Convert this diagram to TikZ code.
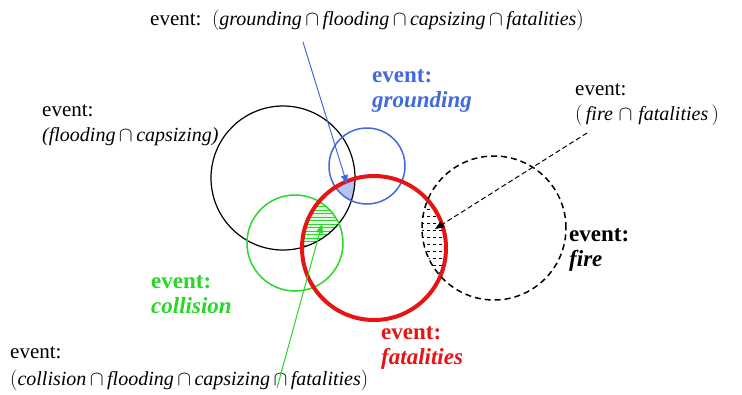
\documentclass[tikz,border=0pt]{standalone}
\usepackage{fontspec}
\setmainfont{Liberation Serif}
\usetikzlibrary{arrows.meta}
\definecolor{evblue}{RGB}{66,105,222}
\definecolor{evgreen}{RGB}{40,215,40}
\definecolor{evred}{RGB}{230,20,20}
\newcommand{\cp}{$\,\cap\,$}
\newcommand{\evexpr}[1]{{\fontsize{20}{24}\selectfont\itshape #1}}

\begin{document}
\begin{tikzpicture}[x=1pt,y=-1pt]
	\tikzset{label text/.style={anchor=west,align=left,inner sep=0pt,font=\fontsize{21}{25}\selectfont},
		event label/.style={label text,font=\fontsize{23}{25}\selectfont\bfseries},
		pointer/.style={-{Triangle[length=9pt,width=7pt]},line width=1pt}}
	\useasboundingbox (0,0) rectangle (742,394);
	% circle centres
	\coordinate (flood) at (283,178);
	\coordinate (ground) at (367,166);
	\coordinate (coll) at (295,243);
	\coordinate (fatal) at (374,248);
	\coordinate (fire) at (494,228);
	% shaded intersections
	\begin{scope}
		\clip (ground) circle[radius=38pt];
		\clip (fatal) circle[radius=72pt];
		\clip (flood) circle[radius=72pt];
		\fill[evblue!40] (320,160) rectangle (370,220);
	\end{scope}
	\begin{scope}
		\clip (coll) circle[radius=48pt];
		\clip (fatal) circle[radius=72pt];
		\clip (flood) circle[radius=72pt];
		\fill[evgreen!12] (280,190) rectangle (360,260);
		\foreach \y in {196,199.5,...,252}
			\draw[evgreen,line width=0.6pt] (280,\y) -- (360,\y);
	\end{scope}
	\begin{scope}
		\clip (fire) circle[radius=72pt];
		\clip (fatal) circle[radius=72pt];
		\foreach \y in {188,195,...,295}
			\draw[line width=0.6pt,dash pattern=on 3pt off 3pt] (415,\y) -- (455,\y);
	\end{scope}
	% event circles
	\draw[line width=1.2pt] (flood) circle[radius=72pt];
	\draw[evblue,line width=1.5pt] (ground) circle[radius=38pt];
	\draw[evgreen,line width=1.5pt] (coll) circle[radius=48pt];
	\draw[evred,line width=4pt] (fatal) circle[radius=72pt];
	\draw[line width=1.5pt,dash pattern=on 6pt off 4pt] (fire) circle[radius=72pt];
	% labels
	\node[label text] (allground) at (150,20) {event:\enskip\evexpr{$\bigl($grounding\cp flooding\cp capsizing\cp fatalities$\bigr)$}};
	\node[label text] (floodcaps) at (42,125) {event:\\\evexpr{(flooding\cp capsizing)}};
	\node[label text] (firefatal) at (575,105) {event:\\\evexpr{$\bigl($\,fire$\;\cap\;$fatalities\,$\bigr)$}};
	\node[label text] (allcoll) at (10,369) {event:\\[2pt]\evexpr{$\bigl($collision\cp flooding\cp capsizing\cp fatalities$\bigr)$}};
	\node[event label,evblue] (groundlab) at (372,91) {event:\\\textit{grounding}};
	\node[event label,evgreen] (colllab) at (151,295) {event:\\\textit{collision}};
	\node[event label,evred] (fatallab) at (381,348) {event:\\\textit{fatalities}};
	\node[event label] (firelab) at (569,250) {event:\\\textit{fire}};
	% pointers
	\coordinate (gtail) at (303,42);
	\coordinate (ghead) at (347,184);
	\coordinate (ctail) at (277,388);
	\coordinate (chead) at (322,224);
	\coordinate (ftail) at (587,133);
	\coordinate (fhead) at (435,229);
	\draw[pointer,evblue] (gtail) -- (ghead);
	\draw[pointer,evgreen] (ctail) -- (chead);
	\draw[pointer,dash pattern=on 5pt off 3pt] (ftail) -- (fhead);
\end{tikzpicture}
\end{document}
